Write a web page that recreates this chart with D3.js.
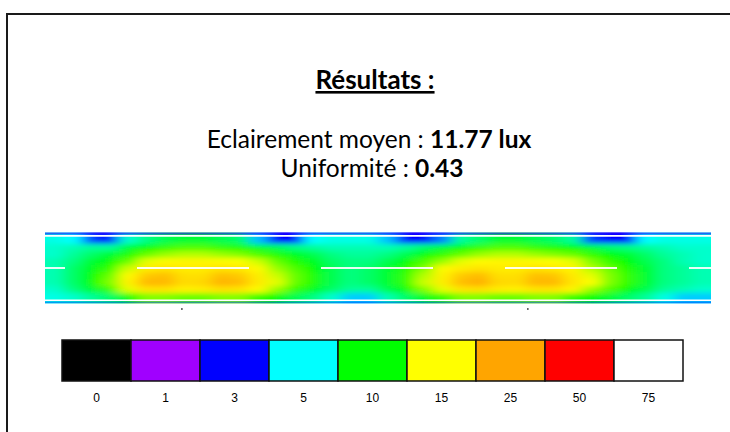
<!DOCTYPE html>
<html>
<head>
<meta charset="utf-8">
<script src="https://cdn.jsdelivr.net/npm/d3@7"></script>
<style>
  html, body { margin: 0; padding: 0; background: #ffffff; }
  svg { display: block; }
</style>
</head>
<body>
<div id="chart"></div>
<script>
// ---------------- DATA ----------------
const legendValues = [0, 1, 3, 5, 10, 15, 25, 50, 75];
const legendColors = ["#000000", "#a000ff", "#0000ff", "#00ffff", "#00ff00", "#ffff00", "#ffa500", "#ff0000", "#ffffff"];

const titleText = "Résultats :";
const meanLabel = "Eclairement moyen : ";
const meanValue = "11.77 lux";
const uniformityLabel = "Uniformité : ";
const uniformityValue = "0.43";

// Illuminance grid (lux), 9 rows across the road (top -> bottom), 36 columns along the road
const illuminanceRows = [
  [5.5,5,3.5,3,6,7.5,8.5,9,9,8.5,8,4.5,3,3,5,5.5,5.5,5.5,4.5,3,3,4,7,8,9,9,8.5,8,7,3.5,3,3,5,5.5,5.5,5.5],
  [6,6.5,7,7,9,10,11,11.5,11.5,11,10.5,9.5,8.5,7.5,7,6.5,6.5,6.5,6.5,7,8,9,10,11,11.5,11.5,11,10.5,10,9,8,7.5,7,6.5,6,6],
  [6,7,8,9,10.5,12,13,13.5,13.5,13,12.5,11.5,10.5,9.5,8.5,7.5,7,7,7.5,8.5,10,11,12,13,13.5,13.5,13,12.5,12,11,10,9,8,7,6.5,6],
  [6.5,7.5,9,10,12,14.5,15.5,16,16,15.5,15,14,12,10.5,9.5,8,7.5,7.5,8.5,10,11.5,13,14.5,15.5,16,16,15.5,15,14.5,12.5,11,10,8.5,7.5,6.5,6],
  [6.5,8,9.5,11,14,17,18,17,17,18,17.5,15.5,13,11.5,10,8.5,7.5,8,9,10.5,12.5,15.5,17,18,17,17,18,17.5,16,13.5,12,10.5,9,7.5,7,6.5],
  [6.5,8,10,12,15.5,21,22,18.5,18.5,22,21,17,14,12,10.5,8.5,7.5,8,9,11,13.5,16.5,21,22.5,18.5,18.5,22,21.5,17.5,14.5,12.5,11,9,7.5,7,6.5],
  [6.5,8,10,12.5,16.5,23,23,19,19.5,23.5,22.5,17.5,14.5,12,10.5,8.5,7.5,8,9,11,14,17,22.5,24,19.5,19,23,23,18,15,12.5,11,9,7.5,7,6.5],
  [6,7.5,9,11,14.5,18,18,16.5,17,18.5,18,15.5,13,11,9.5,8,7,7,8.5,10,12.5,14.5,18,18.5,17,16.5,18,18,16,13,11.5,10,8.5,7,6.5,6],
  [5.5,6,7,8,10,12.5,12.5,12,12,12.5,12.5,11,10,8.5,7.5,6,4.6,4.6,6.5,8,9.5,11,12.5,12.5,12,12,12.5,12.5,11,10,9,8,7,5.5,4.6,4.6]
];

// Positions along the road (m) of the luminaire markers, and road dimensions (m)
const roadLength = 72;
const roadWidth = 7.8;
const lampPositions = [14.8, 52.2];

// ---------------- LAYOUT ----------------
const W = 730, H = 432;
const strip = { x0: 45, x1: 711, y0: 232, y1: 304 };
const gridTop = 237, gridBottom = 300;

const svg = d3.select("#chart").append("svg")
  .attr("width", W).attr("height", H)
  .style("font-family", "Lato, 'Open Sans', sans-serif");

svg.append("rect").attr("width", W).attr("height", H).attr("fill", "#fff");

// frame
svg.append("rect")
  .attr("x", 7).attr("y", 14)
  .attr("width", 800).attr("height", 600)
  .attr("fill", "none")
  .attr("stroke", "#1a1a1a")
  .attr("stroke-width", 2);

// ---------------- TEXT ----------------
svg.append("text")
  .attr("x", 375).attr("y", 89)
  .attr("text-anchor", "middle")
  .attr("font-size", 26)
  .attr("font-weight", "bold")
  .attr("text-decoration", "underline")
  .attr("fill", "#000")
  .text(titleText);

const t1 = svg.append("text")
  .attr("x", 369).attr("y", 148)
  .attr("text-anchor", "middle")
  .attr("font-size", 24.5)
  .attr("fill", "#000");
t1.append("tspan").text(meanLabel);
t1.append("tspan").attr("font-weight", "bold").text(meanValue);

const t2 = svg.append("text")
  .attr("x", 372).attr("y", 177)
  .attr("text-anchor", "middle")
  .attr("font-size", 24.5)
  .attr("fill", "#000");
t2.append("tspan").text(uniformityLabel);
t2.append("tspan").attr("font-weight", "bold").text(uniformityValue);

// ---------------- HEATMAP ----------------
const nRows = illuminanceRows.length;
const nCols = illuminanceRows[0].length;

const color = d3.scaleLinear().domain(legendValues).range(legendColors).clamp(true);
const xCol = d3.scaleLinear().domain([0, nCols]).range([strip.x0, strip.x1]);
const yRow = d3.scaleLinear().domain([0, nRows]).range([gridTop, gridBottom]);
const xRoad = d3.scaleLinear().domain([0, roadLength]).range([strip.x0, strip.x1]);
const yRoad = d3.scaleLinear().domain([0, roadWidth]).range([strip.y0, strip.y1]);

const defs = svg.append("defs");
defs.append("clipPath").attr("id", "stripClip")
  .append("rect")
  .attr("x", strip.x0).attr("y", strip.y0)
  .attr("width", strip.x1 - strip.x0).attr("height", strip.y1 - strip.y0);
const flt = defs.append("filter").attr("id", "smooth")
  .attr("filterUnits", "userSpaceOnUse")
  .attr("x", 0).attr("y", 190).attr("width", W).attr("height", 160);
flt.append("feGaussianBlur").attr("stdDeviation", "7 2.4");

const cells = [];
illuminanceRows.forEach((row, r) => row.forEach((v, c) => cells.push({ r, c, v })));

const pad = 24;
const heat = svg.append("g").attr("clip-path", "url(#stripClip)");
heat.append("g").attr("filter", "url(#smooth)")
  .selectAll("rect").data(cells).join("rect")
  .attr("x", d => xCol(d.c) - (d.c === 0 ? pad : 0))
  .attr("y", d => yRow(d.r) - (d.r === 0 ? pad : 0))
  .attr("width", d => xCol(d.c + 1) - xCol(d.c) + (d.c === 0 || d.c === nCols - 1 ? pad : 0) + 0.5)
  .attr("height", d => yRow(d.r + 1) - yRow(d.r) + (d.r === 0 || d.r === nRows - 1 ? pad : 0) + 0.5)
  .attr("fill", d => color(d.v));

// road edge bands and lines
const edgeLines = [
  { y: 0.0, stroke: "#ffffff", w: 1.2, op: 1 },
  { y: 0.16, stroke: color(2.4), w: 2.2, op: 0.6 },
  { y: 0.42, stroke: "#ffffff", w: 1.6, op: 1 },
  { y: 7.4, stroke: "#ffffff", w: 1.6, op: 1 },
  { y: 7.63, stroke: color(3.6), w: 2, op: 0.55 },
  { y: 7.8, stroke: "#ffffff", w: 1.2, op: 1 }
];
svg.append("g").selectAll("line").data(edgeLines).join("line")
  .attr("x1", strip.x0).attr("x2", strip.x1)
  .attr("y1", d => yRoad(d.y)).attr("y2", d => yRoad(d.y))
  .attr("stroke", d => d.stroke)
  .attr("stroke-width", d => d.w)
  .attr("stroke-opacity", d => d.op);

// centre dashed line
svg.append("line")
  .attr("x1", strip.x0).attr("x2", strip.x1)
  .attr("y1", yRoad(roadWidth / 2)).attr("y2", yRoad(roadWidth / 2))
  .attr("stroke", "#ffffff")
  .attr("stroke-opacity", 0.9)
  .attr("stroke-width", 2)
  .attr("stroke-dasharray", "112 72")
  .attr("stroke-dashoffset", 92);

// luminaire markers
svg.append("g").selectAll("circle").data(lampPositions).join("circle")
  .attr("cx", d => xRoad(d))
  .attr("cy", strip.y1 + 5)
  .attr("r", 0.9)
  .attr("fill", "#444");

// ---------------- LEGEND ----------------
const legX = d3.scaleBand().domain(legendValues.map(String)).range([62, 683]).padding(0);
const legY0 = 340, legY1 = 381;
const leg = svg.append("g");
leg.selectAll("rect").data(legendValues).join("rect")
  .attr("x", d => legX(String(d)))
  .attr("y", legY0)
  .attr("width", legX.bandwidth())
  .attr("height", legY1 - legY0)
  .attr("fill", (d, i) => legendColors[i])
  .attr("stroke", "#111")
  .attr("stroke-width", 1.5);
leg.selectAll("text").data(legendValues).join("text")
  .attr("x", d => legX(String(d)) + legX.bandwidth() / 2)
  .attr("y", 402)
  .attr("text-anchor", "middle")
  .attr("font-family", "'Liberation Sans', Arial, sans-serif")
  .attr("font-size", 12)
  .attr("fill", "#000")
  .text(d => d);
</script>
</body>
</html>
